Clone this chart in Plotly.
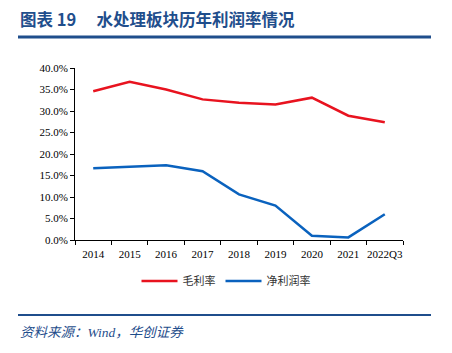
import plotly.graph_objects as go

categories = ["2014", "2015", "2016", "2017", "2018", "2019", "2020", "2021", "2022Q3"]
gross_margin = [34.6, 36.8, 35.0, 32.7, 31.9, 31.5, 33.1, 28.9, 27.4]
net_margin = [16.7, 17.0, 17.4, 16.0, 10.6, 8.0, 1.0, 0.6, 6.0]
y_ticks = [0, 5, 10, 15, 20, 25, 30, 35, 40]

serif = "Liberation Serif"
cjk = "Noto Sans CJK SC"
navy = "#1F4E8C"

W, H = 452, 353
l, r, t, b = 75, 49, 68, 113
pw, ph = W - l - r, H - t - b
def px(x):
    return (x - l) / pw
def py(y):
    return (H - b - y) / ph

fig = go.Figure()
fig.add_trace(go.Scatter(x=categories, y=gross_margin, name="毛利率", mode="lines",
                         line=dict(color="#E8131F", width=2.5)))
fig.add_trace(go.Scatter(x=categories, y=net_margin, name="净利润率", mode="lines",
                         line=dict(color="#0A62BE", width=2.5)))

fig.update_layout(
    width=W, height=H,
    margin=dict(l=l, r=r, t=t, b=b),
    paper_bgcolor="white", plot_bgcolor="white",
    showlegend=True,
    legend=dict(orientation="h", x=px(226), xanchor="center", y=py(281), yanchor="middle",
                font=dict(family=cjk, size=11, color="#333333"),
                traceorder="normal", itemwidth=36),
    xaxis=dict(type="category", range=[-0.5, len(categories) - 0.5],
               showgrid=False, showline=True, linecolor="#000000", linewidth=1,
               ticks="outside", tickson="boundaries", ticklen=4, tickcolor="#000000",
               tickangle=0, ticklabelstandoff=4,
               tickfont=dict(family=serif, size=11, color="#000000")),
    yaxis=dict(range=[0, 40], tickvals=y_ticks, ticktext=[f"{v:.1f}%" for v in y_ticks],
               showgrid=False, showline=True, linecolor="#000000", linewidth=1,
               ticks="outside", ticklen=4, tickcolor="#000000", zeroline=False,
               tickfont=dict(family=serif, size=11, color="#000000")),
)

fig.add_annotation(x=px(18), y=py(19), xref="paper", yref="paper",
                   text="<b>图表 19　 水处理板块历年利润率情况</b>",
                   showarrow=False, xanchor="left", yanchor="middle",
                   font=dict(family=cjk, size=16.5, color=navy))
fig.add_annotation(x=px(18), y=py(332), xref="paper", yref="paper",
                   text="<i>资料来源：Wind，华创证券</i>", showarrow=False, xanchor="left",
                   yanchor="middle", font=dict(family=serif + ", " + cjk, size=13.5, color=navy))
fig.add_shape(type="line", xref="paper", yref="paper", x0=px(18), x1=px(431), y0=py(37), y1=py(37),
              line=dict(color=navy, width=3))
fig.add_shape(type="line", xref="paper", yref="paper", x0=px(18), x1=px(431), y0=py(315), y1=py(315),
              line=dict(color=navy, width=2))

fig.write_html("out.html")
